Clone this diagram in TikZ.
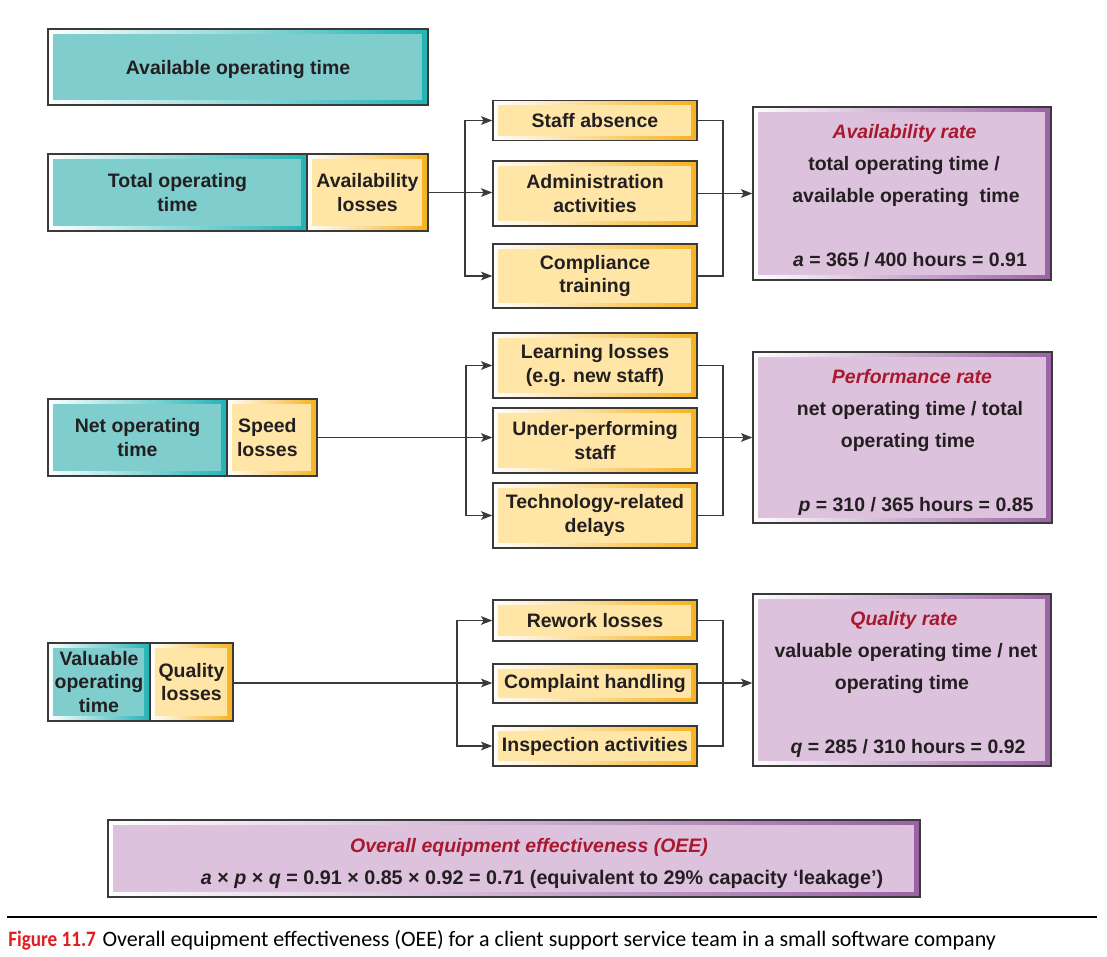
\documentclass[tikz,border=0pt]{standalone}
\usepackage{fontspec}
\usepackage{graphicx}
\setmainfont{Liberation Sans}
\newfontfamily\capfont{Carlito}
\usetikzlibrary{arrows.meta,calc}
\definecolor{frame}{HTML}{3A3A3A}
\definecolor{txt}{HTML}{231F20}
\definecolor{tealin}{HTML}{7FCDCD}
\definecolor{tealedge}{HTML}{22B3B5}
\definecolor{yelin}{HTML}{FFE6A6}
\definecolor{yeledge}{HTML}{F6B21E}
\definecolor{purin}{HTML}{DDC2DE}
\definecolor{puredge}{HTML}{9A62A3}
\definecolor{ttlred}{HTML}{A8182F}
\definecolor{capred}{HTML}{E31B23}
\begin{document}
\begin{tikzpicture}[x=0.75pt,y=-0.75pt,
  sz/.style 2 args={minimum width=#1*0.75pt, minimum height=#2*0.75pt},
  bevel/.style 2 args={draw=frame, line width=1pt, inner sep=0pt, align=center, text=txt,
    font=\bfseries\fontsize{14.6}{17.8}\selectfont,
    path picture={
      \fill[left color=white,right color=#2] (path picture bounding box.south west) rectangle (path picture bounding box.north east);
      \fill[#1] ([shift={(3.9pt,3.6pt)}]path picture bounding box.south west) rectangle ([shift={(-4.2pt,-3.6pt)}]path picture bounding box.north east);
    }},
  tealbox/.style={bevel={tealin}{tealedge}},
  yelbox/.style={bevel={yelin}{yeledge}},
  purbox/.style={bevel={purin}{puredge}},
  ttl/.style={anchor=base, inner sep=0pt, text=ttlred, font=\bfseries\itshape\fontsize{14.6}{17}\selectfont},
  body/.style={anchor=base, inner sep=0pt, text=txt, font=\bfseries\fontsize{14.6}{17}\selectfont},
  ln/.style={draw=frame, line width=1.1pt},
  arr/.style={ln, -{Stealth[length=8.5pt,width=6.5pt,inset=2pt]}}
]
\useasboundingbox (0,0) rectangle (1107,957);

% Row 0
\node[tealbox, sz={380}{76}, text depth=0pt] (aot) at (238,67) {Available operating time};

% Row 1
\node[tealbox, sz={259}{77}] (tot) at (177.5,192.5) {Total operating\\time};
\node[yelbox, sz={121}{77}] (avl) at (367.5,192.5) {Availability\\losses};
\node[yelbox, sz={204}{40}] (sa) at (595,120.5) {Staff absence};
\node[yelbox, sz={204}{65}] (adm) at (595,193.5) {Administration\\activities};
\node[yelbox, sz={204}{64}] (ct) at (595,276) {Compliance\\training};
\node[purbox, sz={298}{173}] (ar) at (902,193.5) {};
\node[ttl] (art) at (904.5,138) {Availability rate};
\node[body] (ar1) at (904,170) {total operating time /};
\node[body] (ar2) at (906,202) {available operating\ \ time};
\node[body] (ar3) at (910,266) {\itshape a\upshape\ = 365 / 400 hours = 0.91};

\coordinate (b1) at (465,192.5);
\coordinate (c1) at (723,193.5);
\draw[arr] (avl.east) -- (avl.east -| adm.west);
\draw[arr] (b1) |- (sa.west);
\draw[arr] (b1) |- (ct.west);
\draw[ln] (sa.east) -| (c1) |- (ct.east);
\draw[arr] (adm.east) -- (adm.east -| ar.west);

% Row 2
\node[tealbox, sz={179}{77}] (net) at (137.5,437.5) {Net operating\\time};
\node[yelbox, sz={90}{77}] (spd) at (272,437.5) {\hspace*{-7pt}Speed\\\hspace*{-7pt}losses};
\node[yelbox, sz={204}{65}] (ll) at (595,365.5) {Learning losses\\(e.g. new staff)};
\node[yelbox, sz={204}{65}] (up) at (595,440.5) {Under-performing\\staff};
\node[yelbox, sz={204}{65}] (tr) at (595,515.5) {Technology-related\\delays};
\node[purbox, sz={299}{171}] (pr) at (902.5,437.5) {};
\node[ttl] (prt) at (912,383) {Performance rate};
\node[body] (pr1) at (910,415) {net operating time / total};
\node[body] (pr2) at (908,447) {operating time};
\node[body] (pr3) at (916,511) {\itshape p\upshape\ = 310 / 365 hours = 0.85};

\coordinate (b2) at (466,437.5);
\coordinate (c2) at (723,437.5);
\draw[arr] (spd.east) -- (spd.east -| up.west);
\draw[arr] (b2) |- (ll.west);
\draw[arr] (b2) |- (tr.west);
\draw[ln] (ll.east) -| (c2) |- (tr.east);
\draw[arr] (up.east |- pr.west) -- (pr.west);

% Row 3
\node[tealbox, sz={102}{78}] (val) at (99,682) {Valuable\\operating\\time};
\node[yelbox, sz={83}{78}] (ql) at (191.5,682) {Quality\\losses};
\node[yelbox, sz={204}{41}] (rw) at (595,620.5) {Rework losses};
\node[yelbox, sz={204}{39}] (ch) at (595,683.5) {Complaint handling};
\node[yelbox, sz={204}{40}] (ia) at (595,746) {Inspection activities};
\node[purbox, sz={298}{172}] (qr) at (902,680) {};
\node[ttl] (qrt) at (904,625) {Quality rate};
\node[body] (qr1) at (906,657) {valuable operating time / net};
\node[body] (qr2) at (902,689) {operating time};
\node[body] (qr3) at (908,753) {\itshape q\upshape\ = 285 / 310 hours = 0.92};

\coordinate (b3) at (457,683);
\coordinate (c3) at (723,683);
\draw[arr] (ql.east |- b3) -- (b3 -| ch.west);
\draw[arr] (b3) |- (rw.west);
\draw[arr] (b3) |- (ia.west);
\draw[ln] (rw.east) -| (c3) |- (ia.east);
\draw[arr] (ch.east |- c3) -- (c3 -| qr.west);

% OEE
\node[purbox, sz={812}{77}] (oee) at (514,858.5) {};
\node[ttl] (oeet) at (529,852) {Overall equipment effectiveness (OEE)};
\node[body, font=\bfseries\fontsize{14.8}{17}\selectfont] (oee1) at (542,884) {\itshape a\upshape\ × \itshape p\upshape\ × \itshape q\upshape\ = 0.91 × 0.85 × 0.92 = 0.71 (equivalent to 29\% capacity ‘leakage’)};

% Caption
\coordinate (r1) at (7,917);
\coordinate (r2) at (1097,917);
\draw[line width=0.8pt, draw=black] (r1) -- (r2);
\node[anchor=base west, inner sep=0pt, font=\capfont\fontsize{16.5}{18}\selectfont] (cap) at (8,946)
  {\textcolor{capred}{\scalebox{0.87}[1]{\bfseries Figure 11.7}}\hspace{5pt}Overall equipment effectiveness (OEE) for a client support service team in a small software company};
\end{tikzpicture}
\end{document}
